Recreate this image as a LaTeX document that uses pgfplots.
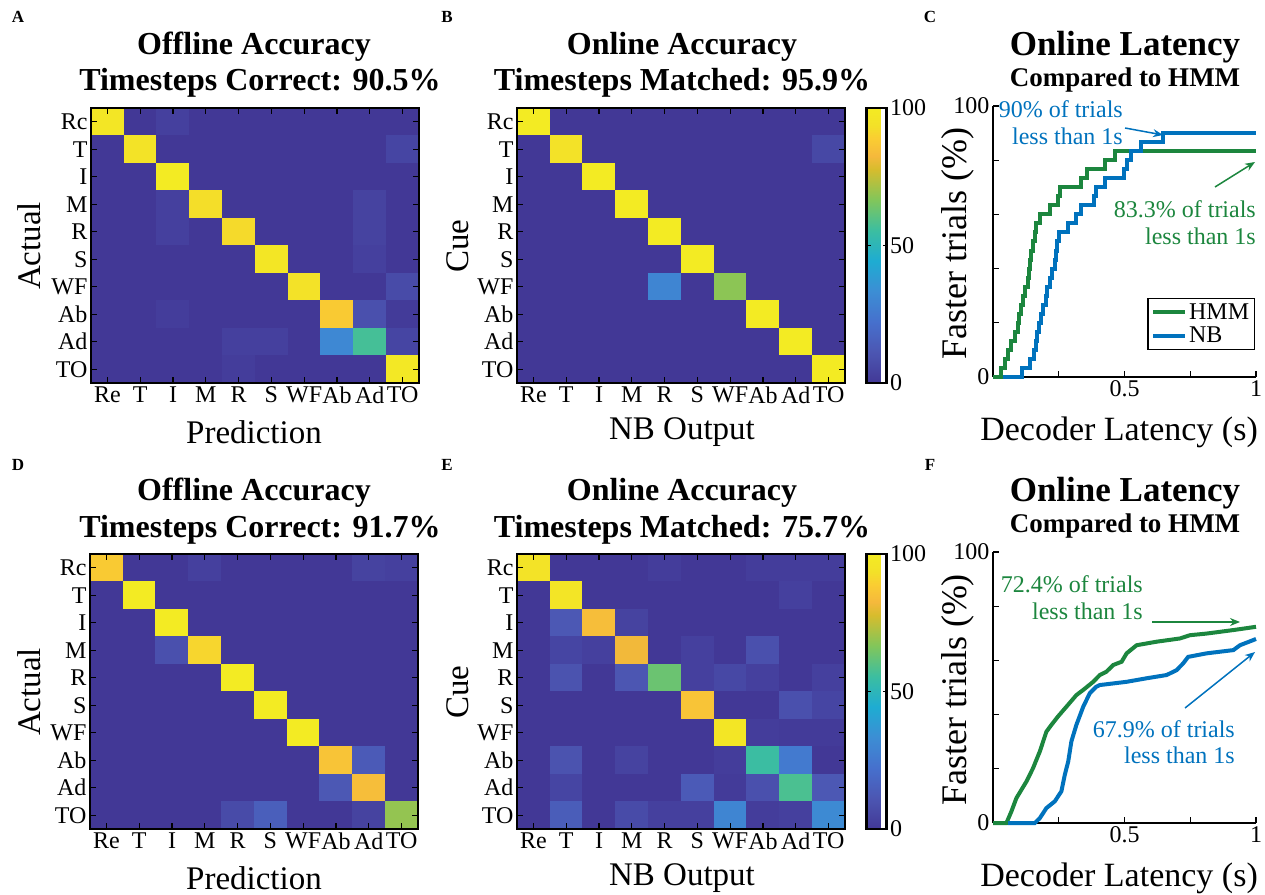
\documentclass[border=0pt]{standalone}
\usepackage{fontspec}
\setmainfont{Liberation Serif}
\usepackage{pgfplots}
\pgfplotsset{compat=1.18}
\usetikzlibrary{arrows.meta}
\newcommand\fs[1]{\fontsize{#1}{#1}\selectfont}
\definecolor{hmm}{RGB}{28,134,62}
\definecolor{nb}{RGB}{0,114,189}
\pgfplotsset{
 /pgf/number format/assume math mode=true,
 colormap={parula}{rgb255(0pt)=(66,56,150) rgb255(7pt)=(76,86,178) rgb255(14pt)=(70,112,205) rgb255(21pt)=(60,142,212) rgb255(28pt)=(30,172,210) rgb255(35pt)=(60,190,160) rgb255(42pt)=(130,198,90) rgb255(49pt)=(215,188,45) rgb255(52pt)=(245,185,60) rgb255(56pt)=(250,205,50) rgb255(59pt)=(243,225,40) rgb255(63pt)=(243,235,35)},
 hm/.style={
   scale only axis, width=328pt, height=275pt,
   xmin=-0.5, xmax=9.5, ymin=-0.5, ymax=9.5, y dir=reverse,
   xtick={0,...,9}, ytick={0,...,9},
   xticklabels={Re,T,I,M,R,S,WF,Ab,Ad,TO},
   yticklabels={Rc,T,I,M,R,S,WF,Ab,Ad,TO},
   tick align=inside, major tick length=6pt,
   tick style={black, line width=1.2pt},
   axis line style={black, line width=2.2pt},
   ticklabel style={font=\fs{24}},
   colormap name=parula, point meta min=0, point meta max=100,
   axis on top,
 },
 cb/.style={
   colorbar,
   colorbar style={
     at={(parent axis.north east)}, anchor=north west, xshift=13pt,
     width=20pt, ytick={0,50,100},
     yticklabel style={font=\fs{24}},
     axis line style={line width=2.2pt},
     tick align=inside, major tick length=4pt, tick style={black,line width=1.2pt},
   },
 },
 cdf/.style={
   scale only axis, width=263pt, height=271pt,
   xmin=0, xmax=1, ymin=0, ymax=100, clip=false,
   axis x line*=bottom, axis y line*=left,
   xtick={0.25,0.5,0.75,1}, xticklabels={,0.5,,1},
   ytick={0,20,40,60,80,100}, yticklabels={0,,,,,100},
   tick align=inside, major tick length=6pt,
   tick style={black, line width=1.2pt},
   axis line style={black, line width=2pt},
   ticklabel style={font=\fs{24}},
 },
}
\begin{document}
\begin{tikzpicture}
\path[use as bounding box] (0pt,0pt) rectangle (1265pt,894pt);
% ---------- A
\begin{axis}[hm, at={(91pt,511pt)}, anchor=south west]
\addplot[matrix plot*, mesh/cols=10, point meta=explicit] coordinates {
(0,0)[97] (1,0)[0] (2,0)[3] (3,0)[0] (4,0)[0] (5,0)[0] (6,0)[0] (7,0)[0] (8,0)[0] (9,0)[0]
(0,1)[0] (1,1)[95] (2,1)[0] (3,1)[0] (4,1)[0] (5,1)[0] (6,1)[0] (7,1)[0] (8,1)[0] (9,1)[5]
(0,2)[0] (1,2)[0] (2,2)[100] (3,2)[0] (4,2)[0] (5,2)[0] (6,2)[0] (7,2)[0] (8,2)[0] (9,2)[0]
(0,3)[0] (1,3)[0] (2,3)[3] (3,3)[93] (4,3)[0] (5,3)[0] (6,3)[0] (7,3)[0] (8,3)[4] (9,3)[0]
(0,4)[0] (1,4)[0] (2,4)[3] (3,4)[0] (4,4)[92] (5,4)[0] (6,4)[0] (7,4)[0] (8,4)[4] (9,4)[0]
(0,5)[0] (1,5)[0] (2,5)[0] (3,5)[0] (4,5)[0] (5,5)[97] (6,5)[0] (7,5)[0] (8,5)[3] (9,5)[0]
(0,6)[0] (1,6)[0] (2,6)[0] (3,6)[0] (4,6)[0] (5,6)[0] (6,6)[94] (7,6)[0] (8,6)[0] (9,6)[7]
(0,7)[0] (1,7)[0] (2,7)[2] (3,7)[0] (4,7)[0] (5,7)[0] (6,7)[0] (7,7)[88] (8,7)[9] (9,7)[1]
(0,8)[0] (1,8)[0] (2,8)[0] (3,8)[0] (4,8)[3] (5,8)[3] (6,8)[0] (7,8)[31] (8,8)[57] (9,8)[5]
(0,9)[0] (1,9)[0] (2,9)[0] (3,9)[0] (4,9)[2] (5,9)[0] (6,9)[0] (7,9)[0] (8,9)[0] (9,9)[98]
};
\end{axis}
% ---------- B
\begin{axis}[hm, cb, at={(517pt,511pt)}, anchor=south west]
\addplot[matrix plot*, mesh/cols=10, point meta=explicit] coordinates {
(0,0)[100] (1,0)[0] (2,0)[0] (3,0)[0] (4,0)[0] (5,0)[0] (6,0)[0] (7,0)[0] (8,0)[0] (9,0)[0]
(0,1)[0] (1,1)[94] (2,1)[0] (3,1)[0] (4,1)[0] (5,1)[0] (6,1)[0] (7,1)[0] (8,1)[0] (9,1)[6]
(0,2)[0] (1,2)[0] (2,2)[100] (3,2)[0] (4,2)[0] (5,2)[0] (6,2)[0] (7,2)[0] (8,2)[0] (9,2)[0]
(0,3)[0] (1,3)[0] (2,3)[0] (3,3)[100] (4,3)[0] (5,3)[0] (6,3)[0] (7,3)[0] (8,3)[0] (9,3)[0]
(0,4)[0] (1,4)[0] (2,4)[0] (3,4)[0] (4,4)[100] (5,4)[0] (6,4)[0] (7,4)[0] (8,4)[0] (9,4)[0]
(0,5)[0] (1,5)[0] (2,5)[0] (3,5)[0] (4,5)[0] (5,5)[100] (6,5)[0] (7,5)[0] (8,5)[0] (9,5)[0]
(0,6)[0] (1,6)[0] (2,6)[0] (3,6)[0] (4,6)[30] (5,6)[0] (6,6)[68] (7,6)[0] (8,6)[0] (9,6)[0]
(0,7)[0] (1,7)[0] (2,7)[0] (3,7)[0] (4,7)[0] (5,7)[0] (6,7)[0] (7,7)[100] (8,7)[0] (9,7)[0]
(0,8)[0] (1,8)[0] (2,8)[0] (3,8)[0] (4,8)[0] (5,8)[0] (6,8)[0] (7,8)[0] (8,8)[100] (9,8)[0]
(0,9)[0] (1,9)[0] (2,9)[0] (3,9)[0] (4,9)[0] (5,9)[0] (6,9)[0] (7,9)[0] (8,9)[0] (9,9)[100]
};
\end{axis}
% ---------- D
\begin{axis}[hm, at={(90pt,65pt)}, anchor=south west]
\addplot[matrix plot*, mesh/cols=10, point meta=explicit] coordinates {
(0,0)[88] (1,0)[0] (2,0)[0] (3,0)[3] (4,0)[0] (5,0)[0] (6,0)[0] (7,0)[0] (8,0)[4] (9,0)[3]
(0,1)[0] (1,1)[100] (2,1)[0] (3,1)[0] (4,1)[0] (5,1)[0] (6,1)[0] (7,1)[0] (8,1)[0] (9,1)[0]
(0,2)[0] (1,2)[0] (2,2)[100] (3,2)[0] (4,2)[0] (5,2)[0] (6,2)[0] (7,2)[0] (8,2)[0] (9,2)[0]
(0,3)[0] (1,3)[0] (2,3)[9] (3,3)[91] (4,3)[0] (5,3)[0] (6,3)[0] (7,3)[0] (8,3)[0] (9,3)[0]
(0,4)[0] (1,4)[0] (2,4)[0] (3,4)[0] (4,4)[100] (5,4)[0] (6,4)[0] (7,4)[0] (8,4)[0] (9,4)[0]
(0,5)[0] (1,5)[0] (2,5)[0] (3,5)[0] (4,5)[0] (5,5)[100] (6,5)[0] (7,5)[0] (8,5)[0] (9,5)[0]
(0,6)[0] (1,6)[0] (2,6)[0] (3,6)[0] (4,6)[0] (5,6)[0] (6,6)[100] (7,6)[0] (8,6)[0] (9,6)[0]
(0,7)[0] (1,7)[0] (2,7)[0] (3,7)[0] (4,7)[0] (5,7)[0] (6,7)[0] (7,7)[86] (8,7)[13] (9,7)[0]
(0,8)[0] (1,8)[0] (2,8)[0] (3,8)[0] (4,8)[0] (5,8)[0] (6,8)[0] (7,8)[12] (8,8)[84] (9,8)[0]
(0,9)[0] (1,9)[0] (2,9)[0] (3,9)[0] (4,9)[7] (5,9)[15] (6,9)[0] (7,9)[0] (8,9)[4] (9,9)[69]
};
\end{axis}
% ---------- E
\begin{axis}[hm, cb, at={(517pt,65pt)}, anchor=south west]
\addplot[matrix plot*, mesh/cols=10, point meta=explicit] coordinates {
(0,0)[95] (1,0)[0] (2,0)[0] (3,0)[0] (4,0)[2] (5,0)[0] (6,0)[0] (7,0)[2] (8,0)[2] (9,0)[2]
(0,1)[0] (1,1)[96] (2,1)[0] (3,1)[0] (4,1)[0] (5,1)[0] (6,1)[0] (7,1)[0] (8,1)[3] (9,1)[0]
(0,2)[0] (1,2)[12] (2,2)[84] (3,2)[4] (4,2)[0] (5,2)[0] (6,2)[0] (7,2)[0] (8,2)[0] (9,2)[0]
(0,3)[0] (1,3)[5] (2,3)[3] (3,3)[82] (4,3)[0] (5,3)[3] (6,3)[0] (7,3)[9] (8,3)[0] (9,3)[0]
(0,4)[0] (1,4)[10] (2,4)[0] (3,4)[11] (4,4)[63] (5,4)[3] (6,4)[6] (7,4)[3] (8,4)[0] (9,4)[3]
(0,5)[0] (1,5)[0] (2,5)[0] (3,5)[0] (4,5)[0] (5,5)[86] (6,5)[0] (7,5)[0] (8,5)[9] (9,5)[5]
(0,6)[0] (1,6)[0] (2,6)[0] (3,6)[0] (4,6)[0] (5,6)[0] (6,6)[97] (7,6)[2] (8,6)[1] (9,6)[1]
(0,7)[0] (1,7)[10] (2,7)[0] (3,7)[4] (4,7)[0] (5,7)[0] (6,7)[2] (7,7)[55] (8,7)[26] (9,7)[0]
(0,8)[0] (1,8)[5] (2,8)[0] (3,8)[0] (4,8)[0] (5,8)[13] (6,8)[1] (7,8)[9] (8,8)[58] (9,8)[12]
(0,9)[0] (1,9)[14] (2,9)[0] (3,9)[7] (4,9)[3] (5,9)[3] (6,9)[30] (7,9)[2] (8,9)[3] (9,9)[32]
};
\end{axis}
% ---------- C
\begin{axis}[cdf, at={(993pt,517pt)}, anchor=south west,
  legend style={at={(0.995,0.10)}, anchor=south east, draw=black, line width=1.2pt, font=\fs{24}, inner sep=3pt, row sep=2pt},
  legend cell align=left,
  legend image code/.code={\draw[#1, line width=4pt] (0pt,0pt) -- (32pt,0pt);}]
\addplot[hmm, line width=4pt, const plot] coordinates {
(0,0) (0.032,3.33) (0.045,6.67) (0.058,10) (0.070,13.33) (0.083,16.67) (0.094,20) (0.100,23.33) (0.108,26.67) (0.114,30) (0.122,33.33) (0.132,36.67) (0.137,40) (0.141,43.33) (0.146,46.67) (0.152,50) (0.158,53.33) (0.165,56.67) (0.178,60) (0.216,63.33) (0.247,66.67) (0.254,70) (0.336,73.33) (0.356,76.67) (0.425,80) (0.463,83.33) (1,83.33)};
\addlegendentry{HMM}
\addplot[nb, line width=4pt, const plot] coordinates {
(0.038,0) (0.112,3.33) (0.142,6.67) (0.155,10) (0.162,13.33) (0.168,16.67) (0.175,20) (0.184,23.33) (0.190,26.67) (0.200,30) (0.206,33.33) (0.216,36.67) (0.226,40) (0.235,43.33) (0.239,46.67) (0.244,50) (0.250,53.33) (0.286,56.67) (0.317,60) (0.336,63.33) (0.383,66.67) (0.393,70) (0.425,73.33) (0.497,76.67) (0.510,80) (0.523,83.33) (0.562,86.67) (0.647,90) (1,90)};
\addlegendentry{NB}
\end{axis}
% ---------- F
\begin{axis}[cdf, at={(993pt,71pt)}, anchor=south west]
\addplot[hmm, line width=4pt] coordinates {
(0,0) (0.051,0) (0.070,4.3) (0.089,9.2) (0.127,15.3) (0.152,20.2) (0.178,26.4) (0.203,33.7) (0.222,36.2) (0.247,39.3) (0.279,42.9) (0.317,47.2) (0.343,49.1) (0.381,52.1) (0.406,54.6) (0.431,55.8) (0.457,58.3) (0.489,59.5) (0.508,62.6) (0.546,65.6) (0.622,66.9) (0.711,68.1) (0.749,69.3) (0.812,69.9) (0.914,71.2) (1,72.4)};
\addplot[nb, line width=4pt] coordinates {
(0.057,0) (0.159,0) (0.178,1.8) (0.203,5.5) (0.235,8.0) (0.260,11.7) (0.273,17.8) (0.286,22.7) (0.298,30.1) (0.317,36.2) (0.343,42.9) (0.368,47.9) (0.393,50.3) (0.406,50.9) (0.457,51.5) (0.508,52.1) (0.584,53.4) (0.660,54.6) (0.698,56.4) (0.723,58.9) (0.742,61.3) (0.812,62.6) (0.863,63.2) (0.914,63.8) (0.939,65.6) (1,67.9)};
\end{axis}
% ---------- texts
\begin{scope}[every node/.style={inner sep=0pt}]
\node[font=\bfseries\fs{17}] at (18pt,877pt) {A};
\node[font=\bfseries\fs{17}] at (447pt,877pt) {B};
\node[font=\bfseries\fs{17}] at (930pt,877pt) {C};
\node[font=\bfseries\fs{17}] at (18pt,429pt) {D};
\node[font=\bfseries\fs{17}] at (447pt,429pt) {E};
\node[font=\bfseries\fs{17}] at (930pt,429pt) {F};
\node[font=\bfseries\fs{32}] at (254pt,847pt) {Offline Accuracy};
\node[font=\bfseries\fs{32}] at (260pt,811pt) {Timesteps Correct: 90.5\%};
\node[font=\bfseries\fs{32}] at (682pt,847pt) {Online Accuracy};
\node[font=\bfseries\fs{32}] at (682pt,811pt) {Timesteps Matched: 95.9\%};
\node[font=\bfseries\fs{35}] at (1125pt,847pt) {Online Latency};
\node[font=\bfseries\fs{27}] at (1125pt,814pt) {Compared to HMM};
\node[font=\bfseries\fs{32}] at (254pt,401pt) {Offline Accuracy};
\node[font=\bfseries\fs{32}] at (260pt,364pt) {Timesteps Correct: 91.7\%};
\node[font=\bfseries\fs{32}] at (682pt,401pt) {Online Accuracy};
\node[font=\bfseries\fs{32}] at (682pt,364pt) {Timesteps Matched: 75.7\%};
\node[font=\bfseries\fs{35}] at (1125pt,401pt) {Online Latency};
\node[font=\bfseries\fs{27}] at (1125pt,368pt) {Compared to HMM};
\node[font=\fs{33}] at (254pt,462pt) {Prediction};
\node[font=\fs{33}] at (682pt,462pt) {NB Output};
\node[font=\fs{33}] at (254pt,16pt) {Prediction};
\node[font=\fs{33}] at (682pt,16pt) {NB Output};
\node[font=\fs{33}, rotate=90] at (29pt,648pt) {Actual};
\node[font=\fs{33}, rotate=90] at (458pt,648pt) {Cue};
\node[font=\fs{33}, rotate=90] at (29pt,202pt) {Actual};
\node[font=\fs{33}, rotate=90] at (458pt,202pt) {Cue};
\node[font=\fs{36}, rotate=90] at (958pt,650pt) {Faster trials (\%)};
\node[font=\fs{36}, rotate=90] at (958pt,204pt) {Faster trials (\%)};
\node[font=\fs{34}, anchor=east] at (1258pt,462pt) {Decoder Latency (s)};
\node[font=\fs{34}, anchor=east] at (1258pt,16pt) {Decoder Latency (s)};
% annotations C
\node[font=\fs{24}, text=nb, anchor=base east] at (1123pt,776pt) {90\% of trials};
\node[font=\fs{24}, text=nb, anchor=base east] at (1123pt,749pt) {less than 1s};
\node[font=\fs{24}, text=hmm, anchor=base east] at (1256pt,676pt) {83.3\% of trials};
\node[font=\fs{24}, text=hmm, anchor=base east] at (1256pt,649pt) {less than 1s};
% annotations F
\node[font=\fs{24}, text=hmm, anchor=base east] at (1143pt,301pt) {72.4\% of trials};
\node[font=\fs{24}, text=hmm, anchor=base east] at (1143pt,274pt) {less than 1s};
\node[font=\fs{24}, text=nb, anchor=base east] at (1235pt,157pt) {67.9\% of trials};
\node[font=\fs{24}, text=nb, anchor=base east] at (1235pt,131pt) {less than 1s};
\end{scope}
\draw[nb, line width=1.5pt, -{Stealth[length=10pt,width=8pt]}] (1125pt,766pt) -- (1163pt,759pt);
\draw[hmm, line width=1.5pt, -{Stealth[length=10pt,width=8pt]}] (1215pt,707pt) -- (1255pt,732pt);
\draw[hmm, line width=1.5pt, -{Stealth[length=10pt,width=8pt]}] (1152pt,272pt) -- (1240pt,272pt);
\draw[nb, line width=1.5pt, -{Stealth[length=10pt,width=8pt]}] (1185pt,186pt) -- (1255pt,242pt);
\end{tikzpicture}
\end{document}
